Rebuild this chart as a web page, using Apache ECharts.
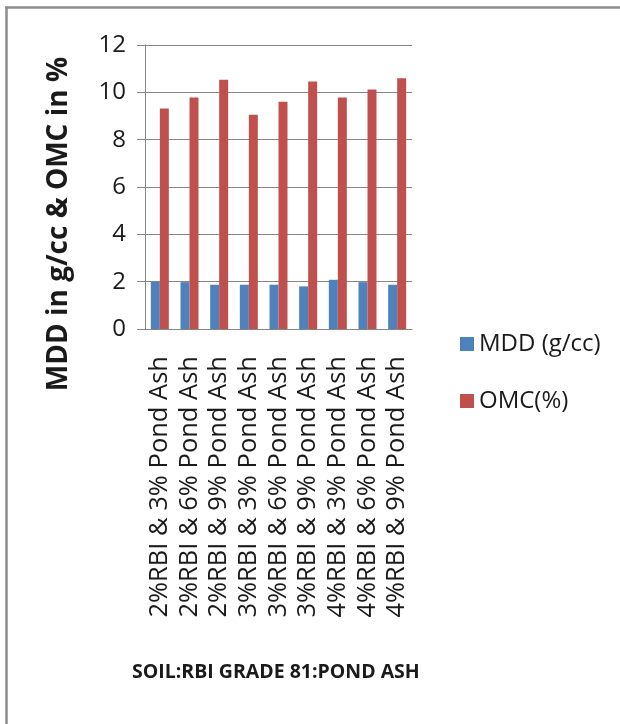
<!DOCTYPE html>
<html>
<head>
<meta charset="utf-8">
<script src="https://cdn.jsdelivr.net/npm/echarts@6/dist/echarts.min.js"></script>
<style>
  html, body { margin: 0; padding: 0; background: #fff; overflow: hidden; }
  #chart { width: 620px; height: 724px; }
</style>
</head>
<body>
<div id="chart"></div>
<script>
// categories (mix ratios)
const categories = [
    '2%RBI & 3% Pond Ash',
    '2%RBI & 6% Pond Ash',
    '2%RBI & 9% Pond Ash',
    '3%RBI & 3% Pond Ash',
    '3%RBI & 6% Pond Ash',
    '3%RBI & 9% Pond Ash',
    '4%RBI & 3% Pond Ash',
    '4%RBI & 6% Pond Ash',
    '4%RBI & 9% Pond Ash'
];

// values
const mddValues = [2.0, 1.98, 1.87, 1.87, 1.87, 1.80, 2.08, 1.98, 1.87];
const omcValues = [9.32, 9.78, 10.53, 9.05, 9.60, 10.46, 9.78, 10.12, 10.59];

const seriesNames = ['MDD (g/cc)', 'OMC(%)'];
const yTitle = 'MDD in g/cc & OMC in %';
const bottomTitle = 'SOIL:RBI GRADE 81:POND ASH';

const chart = echarts.init(document.getElementById('chart'));

const textColor = '#1a1a1a';
const lineColor = '#868686';
const font = "'Open Sans', sans-serif";

const option = {
    backgroundColor: '#fff',
    animation: false,
    title: {
        text: bottomTitle,
        left: 127,
        top: 657,
        textStyle: {
            fontFamily: font,
            fontSize: 19.5,
            fontWeight: 'bold',
            color: textColor
        }
    },
    legend: {
        orient: 'vertical',
        left: 455,
        top: 327,
        itemWidth: 14,
        itemHeight: 14,
        itemGap: 33,
        icon: 'rect',
        textStyle: {
            fontFamily: font,
            fontSize: 24,
            color: textColor
        },
        data: seriesNames
    },
    grid: {
        left: 145,
        right: 208,
        top: 45,
        bottom: 395
    },
    xAxis: {
        type: 'category',
        data: categories,
        axisLine: { lineStyle: { color: lineColor, width: 1 } },
        axisTick: { length: 9, lineStyle: { color: lineColor } },
        axisLabel: {
            rotate: 90,
            margin: 27,
            interval: 0,
            fontFamily: font,
            fontSize: 25.5,
            color: textColor
        }
    },
    yAxis: {
        type: 'value',
        min: 0,
        max: 12,
        interval: 2,
        axisLine: { show: true, lineStyle: { color: lineColor, width: 1 } },
        axisTick: { show: true, length: 8, lineStyle: { color: lineColor } },
        splitLine: { lineStyle: { color: lineColor, width: 1 } },
        axisLabel: {
            margin: 19,
            fontFamily: font,
            fontSize: 24,
            color: textColor
        }
    },
    graphic: [
        {
            // frame: only the left and top edges fall inside the picture
            type: 'line',
            shape: { x1: 6.5, y1: 724, x2: 6.5, y2: 6.5 },
            style: { stroke: '#8c8c8c', lineWidth: 2.5 },
            silent: true
        },
        {
            type: 'line',
            shape: { x1: 5.3, y1: 7.5, x2: 640, y2: 7.5 },
            style: { stroke: '#8c8c8c', lineWidth: 2.5 },
            silent: true
        },
        {
            type: 'text',
            x: 59,
            y: 224,
            rotation: Math.PI / 2,
            style: {
                text: yTitle,
                fontFamily: font,
                fontSize: 28,
                fontWeight: 'bold',
                fill: textColor,
                textAlign: 'center',
                textVerticalAlign: 'middle'
            }
        }
    ],
    series: [
        {
            name: seriesNames[0],
            type: 'bar',
            data: mddValues,
            barWidth: 9,
            barGap: '0%',
            itemStyle: { color: '#4F81BD' }
        },
        {
            name: seriesNames[1],
            type: 'bar',
            data: omcValues,
            barWidth: 9,
            itemStyle: { color: '#C0504D' }
        }
    ]
};

chart.setOption(option);
</script>
</body>
</html>
